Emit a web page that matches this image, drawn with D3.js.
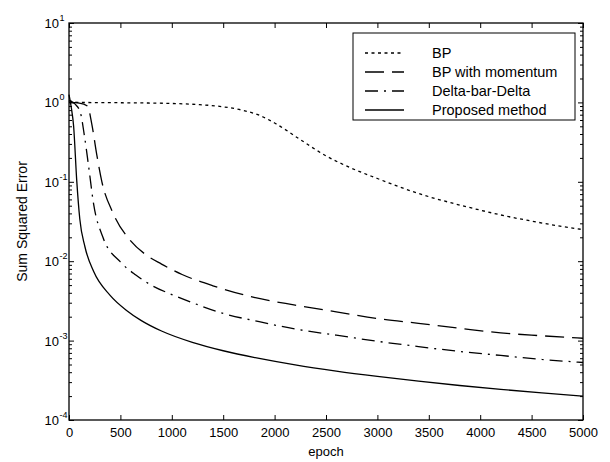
<!DOCTYPE html>
<html>
<head>
<meta charset="utf-8">
<script src="https://cdn.jsdelivr.net/npm/d3@7/dist/d3.min.js"></script>
<style>
  html, body { margin: 0; padding: 0; background: #fff; }
  svg { display: block; font-family: "Liberation Sans", Arial, Helvetica, sans-serif; }
</style>
</head>
<body>
<svg id="chart" width="610" height="462"></svg>
<script>
// ---- Data ----
const seriesNames = ["BP", "BP with momentum", "Delta-bar-Delta", "Proposed method"];

const bpEpoch = [0, 100, 500, 1000, 1250, 1500, 1700, 1850, 2000, 2250, 2500, 2750, 3000, 3250, 3500, 3750, 4000, 4250, 4500, 4750, 5000];
const bpSSE   = [1.05, 1.0, 0.99, 0.97, 0.94, 0.88, 0.79, 0.69, 0.55, 0.34, 0.212, 0.148, 0.11, 0.083, 0.065, 0.053, 0.044, 0.037, 0.032, 0.028, 0.025];

const momEpoch = [0, 100, 180, 220, 270, 320, 430, 600, 750, 900, 1100, 1400, 1800, 2200, 2600, 3000, 3400, 3800, 4200, 4600, 5000];
const momSSE   = [1.0, 0.98, 0.9, 0.55, 0.22, 0.10, 0.040, 0.018, 0.012, 0.0092, 0.0068, 0.0049, 0.0035, 0.0028, 0.0023, 0.0019, 0.00165, 0.00143, 0.00125, 0.00115, 0.00107];

const dbdEpoch = [0, 60, 110, 150, 190, 240, 330, 500, 650, 800, 1000, 1200, 1500, 1850, 2200, 2600, 3000, 3400, 3800, 4200, 4600, 5000];
const dbdSSE   = [1.05, 0.95, 0.75, 0.38, 0.16, 0.052, 0.020, 0.0098, 0.0067, 0.0050, 0.0038, 0.0030, 0.0022, 0.00173, 0.0014, 0.00117, 0.00098, 0.00084, 0.00073, 0.00065, 0.00058, 0.00053];

const propEpoch = [0, 20, 45, 75, 105, 155, 240, 400, 560, 700, 900, 1200, 1500, 1850, 2200, 2600, 3000, 3400, 3800, 4200, 4600, 5000];
const propSSE   = [1.25, 0.9, 0.5, 0.105, 0.034, 0.0152, 0.0074, 0.00372, 0.0024, 0.0018, 0.00132, 0.00095, 0.000745, 0.000596, 0.000494, 0.000413, 0.000354, 0.000308, 0.000272, 0.000243, 0.000219, 0.0002];

const xTicks = [0, 500, 1000, 1500, 2000, 2500, 3000, 3500, 4000, 4500, 5000];
const yTickExps = [-4, -3, -2, -1, 0, 1];
const xLabel = "epoch";
const yLabel = "Sum Squared Error";

// ---- Layout ----
const svg = d3.select("#chart");
const L = 69, R = 583, T = 23, B = 420;

const x = d3.scaleLinear().domain([0, 5000]).range([L, R]);
const y = d3.scaleLog().domain([1e-4, 10]).range([B, T]);

const majorY = yTickExps.map(e => Math.pow(10, e));
const minorY = [];
for (let e = -4; e < 1; e++) for (let m = 2; m <= 9; m++) minorY.push(m * Math.pow(10, e));

svg.append("rect").attr("x", 0).attr("y", 0).attr("width", 610).attr("height", 462).attr("fill", "#fff");

// ---- Series ----
const series = [
  { name: seriesNames[0], ex: bpEpoch,   v: bpSSE,   dash: "3,3.5" },
  { name: seriesNames[1], ex: momEpoch,  v: momSSE,  dash: "19,8" },
  { name: seriesNames[2], ex: dbdEpoch,  v: dbdSSE,  dash: "13,6,2,6" },
  { name: seriesNames[3], ex: propEpoch, v: propSSE, dash: null }
];

const line = d3.line()
  .x(d => x(d[0]))
  .y(d => y(d[1]))
  .curve(d3.curveMonotoneX);

const plot = svg.append("g");
series.forEach(s => {
  const pts = s.ex.map((e, i) => [e, s.v[i]]);
  const p = plot.append("path")
    .attr("d", line(pts))
    .attr("fill", "none")
    .attr("stroke", "#000")
    .attr("stroke-width", 1.3);
  if (s.dash) p.attr("stroke-dasharray", s.dash);
});

// ---- Axes (inward ticks on all four sides) ----
function styleAxis(g) {
  g.select(".domain").remove();
  g.selectAll(".tick line").attr("stroke", "#000").attr("stroke-width", 1);
}

svg.append("g").attr("transform", `translate(0,${B})`)
  .call(d3.axisBottom(x).tickValues(xTicks).tickSize(-5).tickPadding(8).tickFormat(d3.format("d")))
  .call(styleAxis)
  .call(g => g.selectAll("text").attr("font-size", 13).attr("fill", "#000")
    .attr("font-family", "'Liberation Sans', Arial, sans-serif"));

svg.append("g").attr("transform", `translate(0,${T})`)
  .call(d3.axisTop(x).tickValues(xTicks).tickSize(-5).tickFormat(""))
  .call(styleAxis);

svg.append("g").attr("transform", `translate(${L},0)`)
  .call(d3.axisLeft(y).tickValues(majorY).tickSize(-5).tickFormat(""))
  .call(styleAxis);
svg.append("g").attr("transform", `translate(${L},0)`)
  .call(d3.axisLeft(y).tickValues(minorY).tickSize(-3).tickFormat(""))
  .call(styleAxis);
svg.append("g").attr("transform", `translate(${R},0)`)
  .call(d3.axisRight(y).tickValues(majorY).tickSize(-5).tickFormat(""))
  .call(styleAxis);
svg.append("g").attr("transform", `translate(${R},0)`)
  .call(d3.axisRight(y).tickValues(minorY).tickSize(-3).tickFormat(""))
  .call(styleAxis);

// y tick labels 10^e
const yl = svg.append("g").attr("font-size", 13).attr("fill", "#000");
yTickExps.forEach(e => {
  const yy = y(Math.pow(10, e));
  yl.append("text")
    .attr("x", 59).attr("y", yy + 5)
    .attr("text-anchor", "end")
    .text("10");
  yl.append("text")
    .attr("x", 59.5).attr("y", yy - 2)
    .attr("font-size", 9)
    .text(String(e));
});

// frame
svg.append("rect")
  .attr("x", L).attr("y", T).attr("width", R - L).attr("height", B - T)
  .attr("fill", "none").attr("stroke", "#000").attr("stroke-width", 1.3);

// axis labels
svg.append("text")
  .attr("x", (L + R) / 2).attr("y", 456)
  .attr("text-anchor", "middle").attr("font-size", 13).attr("fill", "#000")
  .text(xLabel);

svg.append("text")
  .attr("transform", `translate(27,${(T + B) / 2}) rotate(-90)`)
  .attr("text-anchor", "middle").attr("font-size", 14).attr("fill", "#000")
  .text(yLabel);

// ---- Legend ----
const lg = svg.append("g");
lg.append("rect")
  .attr("x", 353).attr("y", 33).attr("width", 222).attr("height", 87)
  .attr("fill", "#fff").attr("stroke", "#000").attr("stroke-width", 1);
series.forEach((s, i) => {
  const yy = 53 + i * 19;
  const l = lg.append("line")
    .attr("x1", 365).attr("x2", 404).attr("y1", yy).attr("y2", yy)
    .attr("stroke", "#000").attr("stroke-width", 1.3);
  if (s.dash) l.attr("stroke-dasharray", s.dash);
  lg.append("text")
    .attr("x", 432).attr("y", yy + 5)
    .attr("font-size", 14.5).attr("fill", "#000")
    .text(s.name);
});
</script>
</body>
</html>
